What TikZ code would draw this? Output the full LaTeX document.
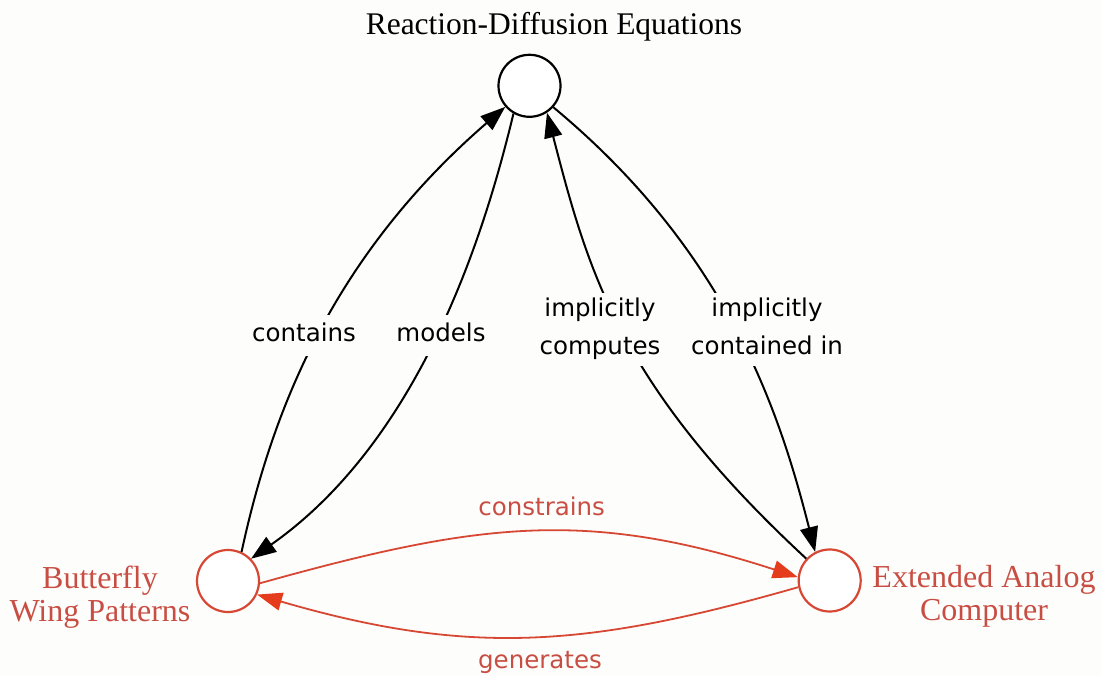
\documentclass[tikz,border=0pt]{standalone}
\usepackage{fontspec}
\setmainfont{Liberation Serif}
\newfontfamily\labfont{DejaVu Sans}
\usetikzlibrary{arrows.meta}
\definecolor{bg}{RGB}{253,253,251}
\definecolor{edgered}{RGB}{215,72,52}
\definecolor{textred}{RGB}{200,78,68}
\definecolor{tipred}{RGB}{228,60,28}
\begin{document}
\begin{tikzpicture}[x=1pt,y=-1pt,
  vertex/.style={circle,draw,line width=2.2pt,minimum size=62pt,inner sep=0pt,fill=white},
  bedge/.style={line width=2pt,-{Triangle[length=25pt,width=18pt]}},
  redge/.style={line width=1.8pt,draw=edgered,-{Triangle[length=25pt,width=18pt,color=tipred]}},
  elab/.style={font=\labfont\fontsize{24.5}{30}\selectfont,fill=bg,inner xsep=4pt,text height=19pt,text depth=6pt,inner ysep=8pt},
  elabtwo/.style={font={\lineskiplimit=-30pt\labfont\fontsize{24.5}{38}\selectfont},fill=bg,inner xsep=4pt,inner ysep=5pt,align=center},
  rlab/.style={font=\labfont\fontsize{24.5}{30}\selectfont,text=textred,anchor=base,inner sep=0pt},
  nlab/.style={font={\fontsize{32}{33}\selectfont},align=center,inner sep=0pt}]

\fill[bg] (0,0) rectangle (1101,676);
\useasboundingbox (0,0) rectangle (1101,676);

% vertices
\node[vertex] (RD) at (529.5,85.8) {};
\node[vertex,draw=edgered] (BW) at (228,581) {};
\node[vertex,draw=edgered] (EA) at (829.7,580.5) {};

% vertex labels
\node[nlab,anchor=base,font=\fontsize{31.5}{34}\selectfont] (RDt) at (554,35) {Reaction-Diffusion Equations};
\node[nlab,text=textred] (BWt) at (100,597) {\rule{0pt}{22pt}Butterfly\\Wing Patterns\rule[-7pt]{0pt}{7pt}};
\node[nlab,text=textred] (EAt) at (984,596) {\rule{0pt}{22pt}Extended Analog\\Computer\rule[-7pt]{0pt}{7pt}};

% black edges
\draw[bedge] (BW.65) .. controls (272,411) and (332,257) .. (RD.221);
\draw[bedge] (RD.240) .. controls (486.5,225.7) and (423.8,437.4) .. (BW.44);
\draw[bedge] (EA.137) .. controls (618.7,384.8) and (588,270.8) .. (RD.-57);
\draw[bedge] (RD.-42) .. controls (727,251.4) and (779,409.6) .. (EA.117);

% red edges
\draw[redge] (BW.-4) .. controls (475.6,523.1) and (585.3,508.1) .. (EA.174);
\draw[redge] (EA.192) .. controls (586.9,647.6) and (469.5,656.4) .. (BW.-25);

% edge labels
\node[elab] (Lcont) at (304,335.5) {contains};
\node[elab] (Lmod) at (441,335.5) {models};
\node[elabtwo] (Lcomp) at (600,329.5) {\rule{0pt}{19pt}implicitly\\computes\rule[-6pt]{0pt}{6pt}};
\node[elabtwo] (Lin) at (767,329.5) {\rule{0pt}{19pt}implicitly\\contained in\rule[-6pt]{0pt}{6pt}};
\node[rlab] (Lcons) at (541.7,515) {constrains};
\node[rlab] (Lgen) at (540,668) {generates};
\end{tikzpicture}
\end{document}
